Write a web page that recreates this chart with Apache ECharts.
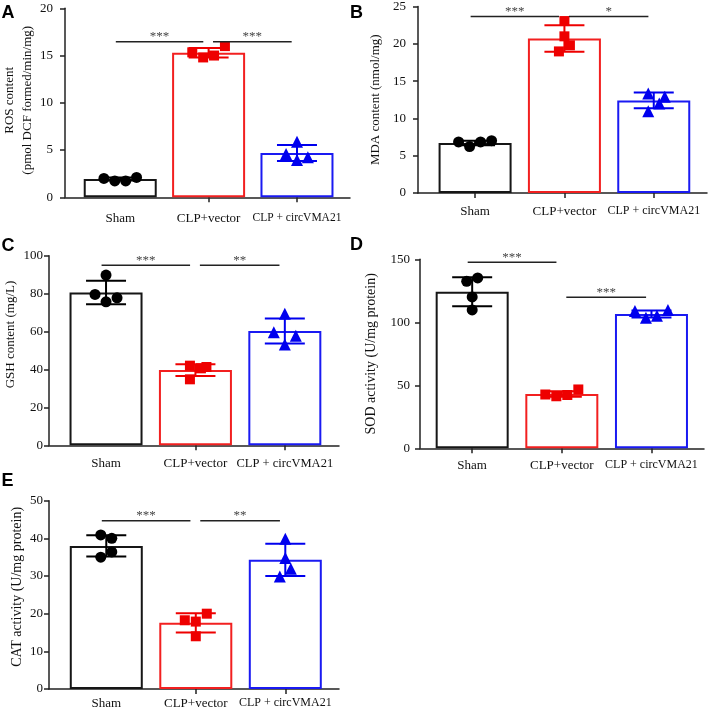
<!DOCTYPE html>
<html><head><meta charset="utf-8">
<script src="https://cdn.jsdelivr.net/npm/echarts@6/dist/echarts.min.js"></script>
<style>html,body{margin:0;padding:0;background:#fff}#c{width:709px;height:710px}</style>
</head><body><div id="c"></div>
<script>
// ---------------- data ----------------
const categories = ['Sham', 'CLP+vector', 'CLP + circVMA21'];

// A: ROS content
const rosMean = [1.94, 15.3, 4.69];
const rosSD = [0.15, 0.5, 0.85];
const rosSham = [2.0, 1.73, 1.73, 2.1];
const rosVector = [15.34, 14.8, 15.0, 16.0];
const rosCirc = [4.58, 5.89, 3.95, 4.23];
const rosTicks = [0, 5, 10, 15, 20];
const rosSig = [[0, 1, 16.47, '***'], [1, 2, 16.47, '***']];

// B: MDA content
const mdaMean = [6.71, 20.7, 12.41];
const mdaSD = [0.3, 1.77, 1.05];
const mdaSham = [6.85, 6.23, 6.85, 7.02];
const mdaVector = [18.98, 23.05, 21.0, 19.8];
const mdaCirc = [13.33, 10.95, 12.0, 12.89];
const mdaTicks = [0, 5, 10, 15, 20, 25];
const mdaSig = [[0, 1, 23.67, '***'], [1, 2, 23.67, '*']];

// C: GSH content
const gshMean = [80.65, 39.7, 60.25];
const gshSD = [6.2, 3.1, 6.6];
const gshSham = [79.6, 89.8, 75.7, 77.8];
const gshVector = [42.0, 34.8, 40.6, 41.3];
const gshCirc = [59.6, 69.4, 53.2, 57.8];
const gshTicks = [0, 20, 40, 60, 80, 100];
const gshSig = [[0, 1, 95.0, '***'], [1, 2, 95.0, '**']];

// D: SOD activity
const sodMean = [124.3, 43.1, 106.6];
const sodSD = [11.5, 2.2, 2.7];
const sodSham = [132.5, 135.2, 120.1, 109.8];
const sodVector = [42.7, 41.3, 42.3, 46.7];
const sodCirc = [109.0, 103.7, 105.2, 109.8];
const sodTicks = [0, 50, 100, 150];
const sodSig = [[0, 1, 147.6, '***'], [1, 2, 119.8, '***']];

// E: CAT activity
const catMean = [38.0, 17.56, 34.3];
const catSD = [2.8, 2.55, 4.3];
const catSham = [40.9, 40.0, 36.4, 35.0];
const catVector = [18.25, 17.9, 20.0, 14.0];
const catCirc = [39.9, 34.8, 31.9, 29.9];
const catTicks = [0, 10, 20, 30, 40, 50];
const catSig = [[0, 1, 44.7, '***'], [1, 2, 44.7, '**']];

// ---------------- layout / style ----------------
const SERIF = 'Liberation Serif';
const barColors = ['#161616', '#f22020', '#1a1af2'];
const ptColors = ['#000000', '#ee0000', '#0000ee'];
const symbols = ['circle', 'rect', 'triangle'];
const symSizes = [11, 10, 12];
const SPREAD = [-1.5, -0.5, 0.5, 1.5];
const DIAMOND = [-1, 0, 0, 1];
const JIT_PX = 11;

const panels = [
  { letter: 'A', lt: [1.5, 4.3], grid: { left: 62, top: 8.3, width: 288, height: 189 }, xr: [-0.625, 2.60],
    mean: rosMean, sd: rosSD, pts: [rosSham, rosVector, rosCirc], ticks: rosTicks, sig: rosSig,
    jit: [SPREAD, SPREAD, DIAMOND], name: 'ROS content\n(pmol DCF formed/min/mg)', nameGap: 29, namePad: 5,
    yMargin: 12, xMargin: 15, thirdFont: 11.5, catTicks: [1, 2], nameFont: 13 },
  { letter: 'B', lt: [350, 3.6], grid: { left: 418, top: 4.3, width: 289, height: 188.7 }, xr: [-0.639, 2.596],
    mean: mdaMean, sd: mdaSD, pts: [mdaSham, mdaVector, mdaCirc], ticks: mdaTicks, sig: mdaSig,
    jit: [SPREAD, [-0.5, 0, 0, 0.5], [-0.5, -0.5, 0.5, 1]], name: 'MDA content (nmol/mg)', nameGap: 34, namePad: 0,
    yMargin: 12, xMargin: 12, thirdFont: 12, catTicks: [0, 1, 2], nameFont: 13 },
  { letter: 'C', lt: [1.5, 237.5], grid: { left: 49, top: 255.7, width: 290, height: 189.6 }, xr: [-0.638, 2.606],
    mean: gshMean, sd: gshSD, pts: [gshSham, gshVector, gshCirc], ticks: gshTicks, sig: gshSig,
    jit: [DIAMOND, [-0.5, -0.5, 0.5, 1], DIAMOND], name: 'GSH content (mg/L)', nameGap: 27, namePad: 32,
    yMargin: 6, xMargin: 12, thirdFont: 12.5, catTicks: [1, 2], nameFont: 13 },
  { letter: 'D', lt: [350, 236], grid: { left: 420, top: 259.3, width: 284, height: 189 }, xr: [-0.582, 2.586],
    mean: sodMean, sd: sodSD, pts: [sodSham, sodVector, sodCirc], ticks: sodTicks, sig: sodSig,
    jit: [[-0.5, 0.5, 0, 0], SPREAD, SPREAD], name: 'SOD activity (U/mg protein)', nameGap: 40, namePad: 0,
    yMargin: 10, xMargin: 11, thirdFont: 12, catTicks: [0, 1, 2], nameFont: 14 },
  { letter: 'E', lt: [1.5, 472.5], grid: { left: 49, top: 500.7, width: 290, height: 189 }, xr: [-0.640, 2.60],
    mean: catMean, sd: catSD, pts: [catSham, catVector, catCirc], ticks: catTicks, sig: catSig,
    jit: [[-0.5, 0.5, 0.5, -0.5], [-1, 0, 1, 0], [0, 0, 0.5, -0.5]], name: 'CAT activity (U/mg protein)', nameGap: 22, namePad: 16,
    yMargin: 6, xMargin: 8, thirdFont: 12, catTicks: [1, 2], nameFont: 14 }
];

const option = { backgroundColor: '#fff', animation: false, title: [], grid: [], xAxis: [], yAxis: [], series: [] };

panels.forEach((p, k) => {
  option.title.push({ text: p.letter, left: p.lt[0], top: p.lt[1], padding: 0,
    textStyle: { fontFamily: 'Liberation Sans', fontWeight: 'bold', fontSize: 18, color: '#000' } });
  option.grid.push(Object.assign({ containLabel: false }, p.grid));
  const axisLineStyle = { color: '#222', width: 1.5 };
  option.xAxis.push({
    type: 'value', gridIndex: k, min: p.xr[0], max: p.xr[1],
    splitLine: { show: false },
    axisLine: { show: true, onZero: false, lineStyle: axisLineStyle },
    axisTick: { show: true, length: 5, lineStyle: axisLineStyle, customValues: p.catTicks },
    axisLabel: {
      show: true, margin: p.xMargin, color: '#111', fontFamily: SERIF, fontSize: 13,
      customValues: [0, 1, 2],
      formatter: (v) => {
        const i = Math.round(v);
        return i === 2 ? '{t|' + categories[i] + '}' : categories[i];
      },
      rich: { t: { fontFamily: SERIF, fontSize: p.thirdFont, color: '#111' } }
    }
  });
  option.yAxis.push({
    type: 'value', gridIndex: k, min: p.ticks[0], max: p.ticks[p.ticks.length - 1],
    splitLine: { show: false },
    axisLine: { show: true, onZero: false, lineStyle: axisLineStyle },
    axisTick: { show: true, length: 5, lineStyle: axisLineStyle, customValues: p.ticks },
    axisLabel: { margin: p.yMargin, color: '#111', fontFamily: SERIF, fontSize: 13, customValues: p.ticks },
    name: p.name, nameLocation: 'middle', nameGap: p.nameGap,
    nameTextStyle: { fontFamily: SERIF, fontSize: p.nameFont, color: '#111', lineHeight: 17.5,
      padding: [0, 0, 0, p.namePad] }
  });
  const pxPerUnit = p.grid.width / (p.xr[1] - p.xr[0]);
  // bars
  option.series.push({
    type: 'bar', xAxisIndex: k, yAxisIndex: k, barWidth: 73, z: 2,
    data: p.mean.map((m, i) => ({ value: [i, m], itemStyle: { color: '#fff', borderColor: barColors[i], borderWidth: 2 } }))
  });
  // error bars
  option.series.push({
    type: 'custom', xAxisIndex: k, yAxisIndex: k, z: 3,
    encode: { x: 0, y: 1 },
    data: p.mean.map((m, i) => [i, m, p.sd[i]]),
    renderItem: (params, api) => {
      const i = api.value(0), m = api.value(1), s = api.value(2);
      const top = api.coord([i, m + s]), bot = api.coord([i, m - s]);
      const half = 20;
      const st = { stroke: ptColors[i], lineWidth: 2 };
      return { type: 'group', children: [
        { type: 'line', shape: { x1: top[0], y1: top[1], x2: bot[0], y2: bot[1] }, style: st },
        { type: 'line', shape: { x1: top[0] - half, y1: top[1], x2: top[0] + half, y2: top[1] }, style: st },
        { type: 'line', shape: { x1: bot[0] - half, y1: bot[1], x2: bot[0] + half, y2: bot[1] }, style: st }
      ] };
    }
  });
  // points
  p.pts.forEach((arr, i) => {
    option.series.push({
      type: 'scatter', xAxisIndex: k, yAxisIndex: k, z: 4,
      symbol: symbols[i], symbolSize: symSizes[i],
      itemStyle: { color: ptColors[i], opacity: 1 },
      data: arr.map((v, j) => [i + p.jit[i][j] * JIT_PX / pxPerUnit, v])
    });
  });
  // significance lines
  option.series.push({
    type: 'custom', xAxisIndex: k, yAxisIndex: k, z: 5,
    encode: { x: 0, y: 2 },
    data: p.sig.map(s => [s[0], s[1], s[2]]),
    renderItem: (params, api) => {
      const a = api.value(0), b = api.value(1), y = api.value(2);
      const x1 = a + (a > 0 ? 0.05 : -0.05), x2 = b - 0.06;
      const p1 = api.coord([x1, y]), p2 = api.coord([x2, y]);
      const label = p.sig[params.dataIndex][3];
      return { type: 'group', children: [
        { type: 'line', shape: { x1: p1[0], y1: p1[1], x2: p2[0], y2: p2[1] }, style: { stroke: '#222', lineWidth: 1.5 } },
        { type: 'text', style: { text: label, x: (p1[0] + p2[0]) / 2, y: p1[1] + 1.5, align: 'center', verticalAlign: 'bottom',
          font: '13px "Liberation Serif"', fill: '#444' } }
      ] };
    }
  });
});

const chart = echarts.init(document.getElementById('c'), null, { renderer: 'canvas' });
chart.setOption(option);
</script>
</body></html>
